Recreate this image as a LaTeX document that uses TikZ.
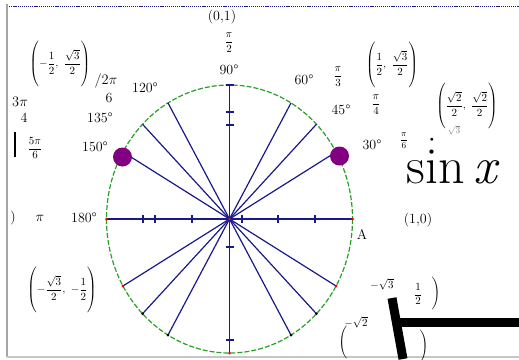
\documentclass[tikz,border=0pt]{standalone}
\usepackage{amsmath}
\usepackage{fontspec}
\definecolor{navy}{RGB}{25,25,140}
\definecolor{cgreen}{RGB}{40,160,40}
\definecolor{purp}{RGB}{128,0,128}
\newcommand{\bparen}[1]{$\left(\vrule width0pt height 26pt depth 21pt #1\right)$}
\begin{document}
\begin{tikzpicture}[x=1pt,y=-1pt,
  lbl/.style={font=\fontsize{14}{16}\selectfont, inner sep=0pt},
  fr/.style={font=\fontsize{11}{13}\selectfont, inner sep=0pt},
  ray/.style={draw=navy, line width=1.2pt},
  tick/.style={draw=navy, line width=1.2pt},
  rdot/.style={fill=red, draw=none},
  kdot/.style={fill=black, draw=none}]
\fill[white] (0,0) rectangle (519,359);
\useasboundingbox (0,0) rectangle (519,359);
% frame
\draw[navy, line width=1pt, dash pattern=on 1.2pt off 0.9pt] (7,6) -- (519,6);
\draw[gray!70, line width=2pt] (7,4) -- (7,357);
\draw[gray!45, line width=1.5pt] (7,357) -- (519,357);
% circle
\coordinate (O) at (229.5,219);
\foreach \a in {0,30,45,60,90,120,135,150,180,210,225,240,270,300,315,330}
  \coordinate (p\a) at ({229.5+123*cos(\a)},{219-134*sin(\a)});
\draw[cgreen, line width=1.2pt, dash pattern=on 5pt off 2pt] (O) ellipse [x radius=123, y radius=134];
\foreach \a in {30,45,60,120,135,150,210,225,240,300,315,330}
  \draw[ray] (O) -- (p\a);
\draw[ray] (p180) -- (p0);
\draw[ray] (p90) -- (p270);
\foreach \x in {143,155,192,242,278,315}
  \draw[tick] (\x,215) -- (\x,223);
\foreach \y in {85,112,125,247,340}
  \draw[tick] (225.5,\y) -- (233.5,\y);
\foreach \a in {0,180,210,330,270}
  \fill[rdot] (p\a) circle (1.5);
\foreach \a in {225,240,300,315}
  \fill[kdot] (p\a) circle (1.5);
\fill[rdot] (O) circle (1.5);
\coordinate (d30) at (339.5,156);
\coordinate (d150) at (122.5,157);
\fill[purp] (d30) circle (9.5);
\fill[purp] (d150) circle (9.5);
% labels top
\node[lbl] (l01) at (222,17) {(0,1)};
\node[fr] (lpi2) at (229,43) {$\dfrac{\pi}{2}$};
\node[lbl] (l90) at (229,70) {90°};
\node[lbl] (l60) at (304,80) {60°};
\node[fr] (lpi3) at (338,77) {$\dfrac{\pi}{3}$};
\node[lbl] (l45) at (341,110) {45°};
\node[fr] (lpi4) at (376,105) {$\dfrac{\pi}{4}$};
\node[fr] (lq1) at (392,65) {\bparen{\dfrac12,\ \dfrac{\sqrt3}{2}}};
\node[fr] (lq2) at (467,106) {\bparen{\dfrac{\sqrt2}{2},\ \dfrac{\sqrt2}{2}}};
\node[lbl] (l30) at (372,145) {30°};
\node[font=\fontsize{9}{10}\selectfont, inner sep=0pt] (lpi6) at (404,141) {$\dfrac{\pi}{6}$};
\node[font=\fontsize{7}{8}\selectfont, inner sep=0pt] (ldot) at (432,140) {$\bullet$};
\node[font=\fontsize{9}{10}\selectfont, inner sep=0pt, text=gray] (lsq) at (454,130) {$\sqrt{3}$};
\node[font=\fontsize{52}{56}\selectfont, inner sep=0pt, anchor=base] (lsin) at (453,183) {sin\,\textit{x}};
\node[lbl] (l10) at (418,220) {(1,0)};
\node[lbl] (lA) at (362,234) {A};
% labels left
\node[fr] (lq4) at (60,64) {\bparen{-\dfrac12,\ \dfrac{\sqrt3}{2}}};
\node[lbl] (l2pi) at (106,81) {$/2\pi$};
\node[lbl] (l6) at (109,98) {6};
\node[lbl] (l120) at (145,88) {120°};
\node[lbl] (l3pi) at (20,102) {$3\pi$};
\node[lbl] (l4) at (24,118) {4};
\node[lbl] (l135) at (100,118) {135°};
\node[fr] (l5pi6) at (35,148) {$\dfrac{5\pi}{6}$};
\draw[line width=1.2pt] (15,132) -- (15,157);
\node[lbl] (l150) at (95,147) {150°};
\node[lbl] (lrp) at (13,218) {)};
\node[lbl] (lpi) at (40,218) {$\pi$};
\node[lbl] (l180) at (84,218) {180°};
\node[fr] (lq3) at (62,290) {\bparen{-\dfrac{\sqrt3}{2},\ -\dfrac12}};
% bottom right
\node[fr] (lsq3) at (382,284) {$-\sqrt3$};
\node[fr] (lhalf) at (418,294) {$\dfrac12$};
\node[fr] (lrp2) at (436,293) {$\Bigg)$};
\node[fr] (lsq2) at (356,322) {$-\sqrt2$};
\node[fr] (llp3) at (343,342) {$\Bigg($};
\node[fr] (lrp3) at (424,346) {$\Bigg)$};
\draw[line width=9pt] (392,298) -- (403,359);
\fill (397,318) rectangle (519,327);
\end{tikzpicture}
\end{document}
